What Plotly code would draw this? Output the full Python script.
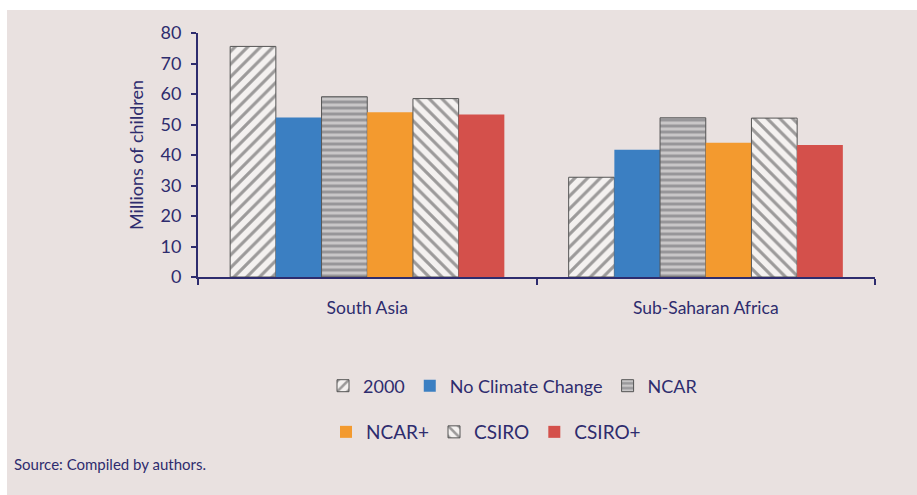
import plotly.graph_objects as go

# Child malnutrition estimates, millions of children
regions = ["South Asia", "Sub-Saharan Africa"]
series_names = ["2000", "No Climate Change", "NCAR", "NCAR+", "CSIRO", "CSIRO+"]
values_2000 = [75.6, 32.7]
values_no_cc = [52.3, 41.7]
values_ncar = [59.1, 52.2]
values_ncar_plus = [54.0, 44.0]
values_csiro = [58.5, 52.1]
values_csiro_plus = [53.3, 43.3]
y_ticks = [0, 10, 20, 30, 40, 50, 60, 70, 80]
source_note = "Source: Compiled by authors."

NAVY = "#2E2C6E"
PANEL = "#E9E1E0"
FONT = "Lato"

series_values = [values_2000, values_no_cc, values_ncar,
                 values_ncar_plus, values_csiro, values_csiro_plus]

styles = [
    dict(color="#F4F1F0", pattern=dict(shape="/", fgcolor="#444444", size=9, solidity=0.35, fillmode="overlay"),
         line=dict(color="#555555", width=1)),
    dict(color="#3B7FC2", line=dict(color="#3B7FC2", width=0)),
    dict(color="#C9C7C8", pattern=dict(shape="-", fgcolor="#66666A", size=6, solidity=0.5, fillmode="overlay"),
         line=dict(color="#555555", width=1)),
    dict(color="#F39A2F", line=dict(color="#F39A2F", width=0)),
    dict(color="#F4F1F0", pattern=dict(shape="\\", fgcolor="#444444", size=9, solidity=0.35, fillmode="overlay"),
         line=dict(color="#555555", width=1)),
    dict(color="#D4504B", line=dict(color="#D4504B", width=0)),
]

legend_ids = ["legend", "legend", "legend", "legend2", "legend2", "legend2"]

fig = go.Figure()
for name, vals, st, lg in zip(series_names, series_values, styles, legend_ids):
    fig.add_trace(go.Bar(x=regions, y=vals, name=name, marker=st, legend=lg))

# Plot-area geometry in pixels
L, R, T, B = 198, 42, 33, 218
W, H = 917, 495
pw, ph = W - L - R, H - T - B

def px_x(x):
    return (x - L) / pw

def px_y(y):
    return (H - B - y) / ph

fig.update_layout(
    width=W, height=H,
    margin=dict(l=L, r=R, t=T, b=B, pad=0),
    paper_bgcolor="white",
    plot_bgcolor="rgba(0,0,0,0)",
    barmode="group",
    bargap=0.19,
    bargroupgap=0,
    font=dict(family=FONT, color=NAVY, size=16),
    showlegend=True,
    legend=dict(orientation="h", x=px_x(323), y=px_y(386), xanchor="left", yanchor="middle",
                bgcolor="rgba(0,0,0,0)", font=dict(size=18, color=NAVY), itemclick=False),
    legend2=dict(orientation="h", x=px_x(326), y=px_y(432), xanchor="left", yanchor="middle",
                 bgcolor="rgba(0,0,0,0)", font=dict(size=19, color=NAVY), itemclick=False),
    xaxis=dict(showline=True, linecolor=NAVY, linewidth=2, ticks="outside", tickson="boundaries",
               ticklen=6, tickcolor=NAVY, tickwidth=2, showgrid=False,
               tickfont=dict(size=17.5, color=NAVY), ticklabelstandoff=14),
    yaxis=dict(range=[0, 80], tickvals=y_ticks, showline=True, linecolor=NAVY, linewidth=2,
               ticks="outside", ticklen=5, tickcolor=NAVY, tickwidth=2, showgrid=False,
               zeroline=False, tickfont=dict(size=18, color=NAVY), ticklabelstandoff=6,
               title=dict(text="Millions of children", font=dict(size=18, color=NAVY), standoff=12)),
    shapes=[dict(type="rect", xref="paper", yref="paper", layer="below",
                 x0=px_x(7), x1=px_x(917), y0=px_y(495), y1=px_y(10),
                 fillcolor=PANEL, line=dict(width=0))],
    annotations=[dict(text=source_note, xref="paper", yref="paper", x=px_x(12), y=px_y(464),
                      xanchor="left", yanchor="middle", showarrow=False,
                      font=dict(size=15, color=NAVY))],
)

fig.write_html("out.html")
